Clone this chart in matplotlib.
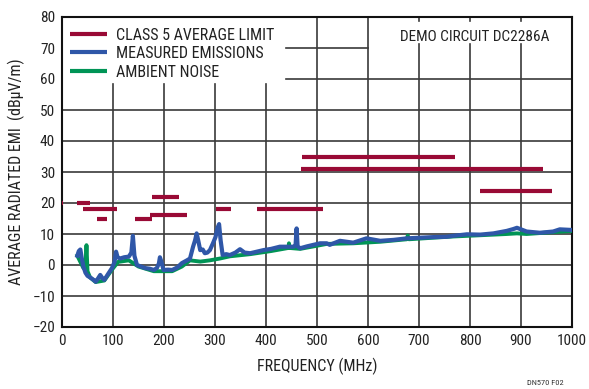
import matplotlib
matplotlib.use("Agg")
import matplotlib.pyplot as plt
from matplotlib.lines import Line2D
from matplotlib import font_manager

# ---------------- data ----------------
limit_start = [0.5, 30, 42, 69, 143, 172, 176, 301, 382, 469, 470, 820]
limit_end   = [2,   54, 108, 88, 176, 246, 230, 331, 512, 944, 770, 960]
limit_level = [20,  20, 18, 15, 15, 16, 22, 18, 18, 31, 35, 24]

meas_freq = [30, 33, 36, 39, 42, 46, 50, 55, 62, 66, 70, 75, 79, 83, 90, 98, 103,
             106, 109, 114, 122, 131, 136, 139, 142, 147, 155, 163, 172, 180, 186,
             190, 192, 195, 199, 208, 216, 226, 235, 245, 251, 257, 261, 264, 267,
             271, 276, 280, 285, 290, 296, 301, 305, 308, 311, 315, 322, 329, 340,
             349, 358, 369, 382, 395, 410, 427, 440, 454, 458, 460, 462, 467, 480,
             493, 506, 519, 525, 545, 571, 597, 624, 650, 676, 702, 728, 754, 767,
             794, 820, 846, 872, 885, 892, 900, 911, 937, 963, 976, 1000]
meas_val = [3, 4.5, 5, 2, -0.5, -2.5, -3.5, -4, -4.8, -5.4, -4.5, -3.2, -4.2, -4.8,
            -3, -1, 1, 4.3, 2.5, 2.1, 2.5, 2.7, 4, 9.4, 3, 0, -0.5, -1, -1.2, -1.6,
            -1, 0.5, 2.5, 1, -1.6, -1.5, -1.6, -0.8, 0.6, 1.5, 2.1, 5.9, 8, 10.2, 8,
            4.8, 5, 3.8, 4, 4.8, 7, 9, 12, 13.2, 8, 3.2, 3.5, 3.2, 4, 5.1, 4, 3.8,
            4.3, 4.8, 5.2, 5.9, 5.9, 5.9, 6.5, 11.8, 6, 5.4, 6, 6.5, 7, 7, 6.5, 7.8,
            7.2, 8.6, 7.8, 8.1, 8.6, 8.8, 9, 9.1, 9.4, 9.9, 9.8, 10.2, 11, 11.6, 12,
            11.5, 10.8, 10.4, 10.8, 11.5, 11.3]

amb_freq = [30, 42, 46, 48, 50, 55, 66, 83, 98, 110, 131, 150, 180, 216, 235, 251,
            271, 290, 310, 329, 369, 410, 444, 445, 446, 467, 519, 571, 624, 676,
            678, 680, 728, 767, 820, 872, 892, 911, 963, 1000]
amb_val = [3, -1, -1, 6.4, -2, -4, -5.5, -5, -1.5, 1, 1.5, -0.5, -2, -2, -0.5, 1.5,
           1.1, 1.5, 2.1, 2.8, 3.5, 4.5, 5.5, 7, 5.5, 5.2, 6.8, 7, 7.5, 8.3, 9.5,
           8.3, 8.8, 9.2, 9.6, 10, 10.2, 10, 10.6, 11]

x_ticks = list(range(0, 1001, 100))
y_ticks = list(range(-20, 81, 10))

# ---------------- style ----------------
avail = {f.name for f in font_manager.fontManager.ttflist}
narrow = None
for cand in ['Liberation Sans Narrow', 'Arial Narrow', 'Roboto Condensed',
             'Open Sans Condensed', 'DejaVu Sans Condensed']:
    if cand in avail:
        narrow = cand
        break
if narrow is None:
    narrow = 'DejaVu Sans'
    plt.rcParams['font.stretch'] = 'condensed'
plt.rcParams['font.family'] = [narrow, 'DejaVu Sans']

RED = '#990a35'
BLUE = '#2f57a8'
GREEN = '#009456'
GRID = '#3a3a3a'
TXT = '#222222'

fig = plt.figure(figsize=(5.89, 3.89), dpi=100)
ax = fig.add_axes([62/589, 1-327/389, 510/589, 310/389])
ax.set_xlim(0, 1000)
ax.set_ylim(-20, 80)

# grid (drawn manually to reproduce the blanked regions)
glw = 1.2
for yv in y_ticks[1:-1]:
    if yv == 70:
        ax.plot([439, 600], [yv, yv], color=GRID, lw=glw, zorder=0.5)
    elif yv == 60:
        ax.plot([439, 1000], [yv, yv], color=GRID, lw=glw, zorder=0.5)
    else:
        ax.plot([0, 1000], [yv, yv], color=GRID, lw=glw, zorder=0.5)
for xv in x_ticks[1:-1]:
    if xv <= 400:
        ax.plot([xv, xv], [-20, 58.4], color=GRID, lw=glw, zorder=0.5)
    elif xv >= 700:
        ax.plot([xv, xv], [-20, 71.2], color=GRID, lw=glw, zorder=0.5)
        ax.plot([xv, xv], [78.6, 80], color=GRID, lw=glw, zorder=0.5)
    else:
        ax.plot([xv, xv], [-20, 80], color=GRID, lw=glw, zorder=0.5)

# limit segments
for s, e, lv in zip(limit_start, limit_end, limit_level):
    ax.plot([s, e], [lv, lv], color=RED, lw=3, solid_capstyle='butt', zorder=3)

ax.plot(amb_freq, amb_val, color=GREEN, lw=2.8, zorder=3.5)
ax.plot(meas_freq, meas_val, color=BLUE, lw=3.0, zorder=4)

ax.set_xticks(x_ticks)
ax.set_yticks(y_ticks)
ax.set_yticklabels([str(v).replace('-', '\u2212') for v in y_ticks])
ax.tick_params(length=0, labelsize=11, pad=5, colors=TXT)
for sp in ax.spines.values():
    sp.set_linewidth(1.5)
    sp.set_color('#111111')

ax.set_xlabel('FREQUENCY (MHz)', fontsize=11.5, color=TXT, labelpad=7)
ax.set_ylabel('AVERAGE RADIATED EMI  (dB\u03bcV/m)', fontsize=11.5, color=TXT, labelpad=5)

handles = [Line2D([0], [0], color=RED, lw=3, solid_capstyle='butt'),
           Line2D([0], [0], color=BLUE, lw=3, solid_capstyle='butt'),
           Line2D([0], [0], color=GREEN, lw=3, solid_capstyle='butt')]
labels = ['CLASS 5 AVERAGE LIMIT', 'MEASURED EMISSIONS', 'AMBIENT NOISE']
leg = ax.legend(handles, labels, loc='upper left', bbox_to_anchor=(0.0157, 0.966),
                frameon=False, fontsize=11.5, handlelength=2.3, handletextpad=0.6,
                labelspacing=0.22, borderpad=0, borderaxespad=0)
for t in leg.get_texts():
    t.set_color(TXT)

ax.text(809, 73.4, 'DEMO CIRCUIT DC2286A', fontsize=11, ha='center', va='center',
        color=TXT, zorder=5)

fig.text(545/589, 1-383/389, 'DN570 F02', fontsize=6, ha='center', va='center',
         color='#333333')

fig.savefig('out.png', dpi=100)
